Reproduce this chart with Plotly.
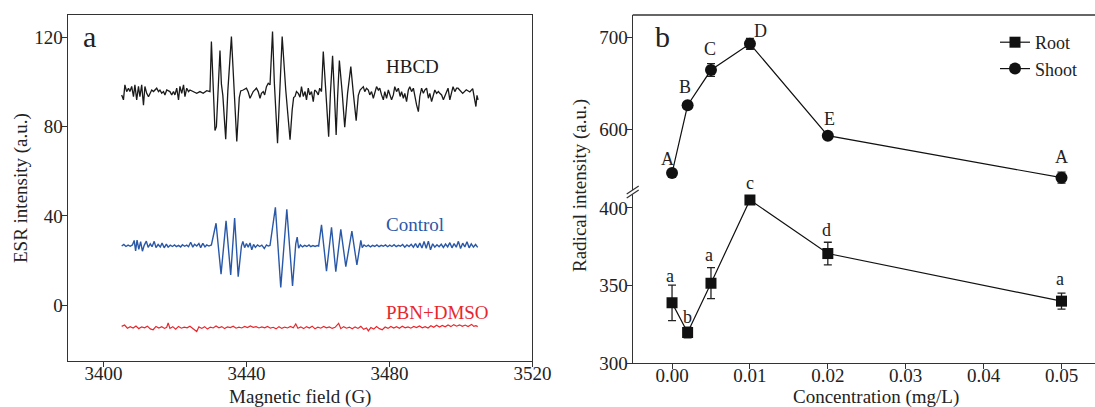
import plotly.graph_objects as go

# ---------------- Panel a: ESR spectra ----------------
hbcd_field = [
    3405.1, 3405.6, 3406.0, 3406.5, 3407.0, 3407.4, 3407.9, 3408.4, 3408.8, 3409.3,
    3409.8, 3410.2, 3410.7, 3411.2, 3411.6, 3412.1, 3412.6, 3413.0, 3413.5, 3414.0,
    3414.9, 3415.4, 3415.8, 3416.3, 3416.8, 3417.2, 3417.7, 3418.6, 3419.1, 3419.6,
    3420.0, 3420.5, 3421.0, 3421.4, 3421.9, 3422.4, 3422.8, 3423.3, 3423.8, 3424.2,
    3425.2, 3426.1, 3427.0, 3427.9, 3428.9, 3429.8,
    3430.2, 3430.7, 3431.2, 3431.6, 3432.0, 3432.6, 3433.0, 3433.4, 3434.2, 3434.8,
    3435.8, 3436.4, 3437.3, 3438.0,
    3438.4, 3439.1, 3440.0, 3440.5, 3441.0, 3441.9, 3442.4, 3442.8, 3443.3, 3443.8,
    3444.2, 3444.7, 3445.1, 3445.6, 3446.1, 3446.6,
    3447.3, 3447.8, 3448.7, 3449.3, 3450.0, 3451.0, 3452.2, 3452.8,
    3453.2, 3453.6, 3454.0, 3454.5, 3455.0, 3455.4, 3455.9, 3456.4, 3456.8, 3457.3,
    3457.7, 3458.2, 3458.7, 3459.1, 3459.6, 3460.1, 3460.5, 3461.0,
    3461.5, 3462.2, 3463.0, 3463.5, 3464.1, 3464.6, 3465.1, 3465.5, 3466.0, 3466.8,
    3467.5, 3468.3, 3469.2, 3469.9, 3470.7, 3471.3, 3471.8,
    3472.7, 3473.1, 3473.6, 3474.1, 3474.5, 3475.0, 3475.5, 3475.9, 3476.4, 3476.9,
    3477.3, 3477.8, 3478.3, 3478.7, 3479.2, 3479.7, 3480.1, 3480.6, 3481.1, 3481.5,
    3482.0, 3482.5, 3483.0, 3483.4, 3483.9, 3484.3, 3484.8, 3485.3, 3485.7, 3486.2,
    3486.7, 3487.1, 3487.6, 3488.1, 3488.5, 3489.0, 3489.5, 3489.9, 3490.4, 3490.9,
    3491.3, 3491.8, 3492.3, 3492.7, 3493.2, 3493.7, 3494.1, 3494.6, 3495.1, 3495.5,
    3496.0, 3496.4, 3496.9, 3497.4, 3497.8, 3498.3, 3498.8, 3499.2, 3499.7, 3500.5,
    3501.5, 3502.5, 3503.3, 3503.8, 3504.2, 3504.5, 3504.8,
]
hbcd_signal = [
    94.2, 92.0, 98.7, 95.7, 97.2, 95.7, 98.0, 93.4, 98.7, 92.0,
    98.0, 93.4, 98.7, 89.6, 98.0, 94.9, 93.4, 94.9, 96.4, 95.7,
    97.2, 95.7, 96.4, 95.0, 95.7, 94.2, 96.4, 95.7, 94.2, 95.7,
    94.2, 97.2, 92.0, 98.0, 94.9, 98.7, 93.4, 97.2, 95.7, 96.4,
    95.7, 94.9, 95.7, 94.9, 96.1, 95.7,
    118.1, 98.0, 78.3, 80.0, 97.0, 114.1, 99.0, 94.0, 74.4, 96.0,
    120.3, 100.0, 73.3, 93.0,
    96.0, 96.4, 97.2, 95.5, 92.7, 95.7, 96.4, 97.2, 95.7, 92.7,
    94.9, 95.7, 94.2, 97.9, 99.4, 98.7,
    122.6, 100.0, 72.6, 95.0, 120.3, 96.4, 74.1, 87.5,
    93.0, 93.5, 95.7, 94.9, 93.2, 97.9, 93.5, 95.7, 92.0, 97.2,
    94.2, 95.7, 91.2, 96.4, 95.7, 94.2, 97.2, 95.7,
    113.6, 96.0, 75.5, 95.0, 111.7, 95.0, 76.3, 93.0, 109.6, 95.0,
    79.7, 95.0, 106.9, 95.0, 82.7, 94.0, 96.4,
    97.9, 95.7, 97.2, 96.4, 94.2, 95.7, 92.7, 95.7, 97.9, 96.4,
    97.2, 94.2, 92.0, 95.7, 92.7, 96.4, 94.2, 92.0, 94.2, 97.9,
    95.7, 97.2, 93.5, 95.7, 92.7, 94.9, 91.2, 96.4, 97.9, 95.7,
    97.2, 93.5, 89.7, 86.7, 93.5, 97.2, 94.9, 96.4, 97.2, 92.7,
    94.9, 91.2, 94.2, 96.4, 94.9, 95.7, 94.9, 94.2, 92.0, 93.5,
    95.7, 97.2, 92.0, 95.7, 97.9, 95.7, 97.2, 97.2, 96.4, 94.9,
    96.5, 95.5, 97.0, 91.5, 89.0, 94.0, 92.0,
]

control_field = [
    3405.1, 3405.7, 3406.3, 3406.9, 3407.5, 3408.1, 3408.6, 3409.0, 3409.4, 3409.9,
    3410.4, 3410.9, 3411.4, 3412.0, 3412.5, 3413.1, 3413.6, 3414.2, 3414.7, 3415.3,
    3415.9, 3416.4, 3417.0, 3417.6, 3418.1, 3418.7, 3419.3, 3419.9, 3420.4, 3421.0,
    3421.6, 3422.1, 3422.7, 3423.3, 3423.8, 3424.4, 3425.0, 3425.5, 3426.1, 3426.7,
    3427.2, 3427.8, 3428.4, 3428.9, 3429.5, 3430.2,
    3431.5, 3432.9, 3434.3, 3435.6, 3436.7, 3437.7,
    3438.6, 3439.0, 3439.5, 3440.0, 3440.5, 3441.0, 3441.5, 3442.0, 3442.5, 3443.1,
    3443.7, 3444.3, 3445.0, 3445.6, 3446.1, 3446.6,
    3448.1, 3449.6, 3451.3, 3452.9,
    3453.8, 3454.2, 3454.6, 3455.1, 3455.7, 3456.3, 3456.9, 3457.5, 3458.0, 3458.6,
    3459.2, 3459.8, 3460.2,
    3461.0, 3462.4, 3463.8, 3465.0, 3466.4, 3467.8, 3469.5, 3470.9,
    3471.7, 3472.0, 3472.4, 3472.9, 3473.5, 3474.1, 3474.7, 3475.3, 3475.9, 3476.5,
    3477.1, 3477.7, 3478.3, 3478.9, 3479.5, 3480.1, 3480.7, 3481.3, 3481.9, 3482.5,
    3483.1, 3483.7, 3484.3, 3484.9, 3485.5, 3486.1, 3486.7, 3487.3, 3487.9, 3488.5,
    3489.1, 3489.7, 3490.3, 3490.9, 3491.5, 3492.1, 3492.7, 3493.3, 3493.9, 3494.5,
    3495.1, 3495.7, 3496.3, 3496.9, 3497.5, 3498.1, 3498.7, 3499.3, 3499.9, 3500.5,
    3501.1, 3501.7, 3502.3, 3502.9, 3503.5, 3504.1, 3504.7,
]
control_signal = [
    26.5, 27.2, 26.3, 26.9, 26.4, 27.0, 29.0, 24.3, 29.2, 25.0,
    28.5, 24.2, 26.8, 28.7, 25.9, 27.5, 26.2, 28.6, 25.8, 27.2,
    26.1, 27.8, 25.7, 27.4, 26.0, 26.9, 26.3, 27.0, 26.2, 26.8,
    26.1, 27.1, 26.4, 26.9, 26.2, 28.2, 26.0, 27.3, 26.5, 27.6,
    25.8, 27.7, 26.1, 27.0, 26.5, 27.0,
    36.7, 13.9, 37.8, 13.6, 39.0, 12.8,
    26.5, 28.5, 25.8, 27.6, 26.0, 27.9, 24.8, 27.2, 25.9, 27.0,
    26.3, 26.9, 25.4, 27.0, 26.5, 26.8,
    43.8, 8.0, 43.0, 8.6,
    27.5, 30.5, 25.5, 27.0, 26.1, 26.8, 26.3, 27.0, 26.2, 26.7,
    26.3, 26.7, 26.5,
    36.0, 15.2, 34.9, 15.0, 34.0, 17.3, 33.2, 18.0,
    27.5, 29.0, 25.8, 27.0, 26.3, 26.9, 26.1, 26.8, 26.3, 27.0,
    26.2, 26.8, 26.4, 27.0, 26.2, 26.9, 26.3, 27.1, 26.2, 26.8,
    26.4, 27.2, 26.0, 27.0, 26.3, 27.3, 26.0, 27.6, 25.8, 27.8,
    25.6, 28.5, 25.5, 28.7, 24.8, 27.5, 26.0, 27.1, 26.2, 27.3,
    25.9, 27.4, 26.1, 28.0, 25.7, 27.6, 26.0, 28.6, 25.4, 27.8,
    26.1, 28.4, 25.7, 27.5, 26.0, 27.2, 25.9,
]

pbn_field = [
    3405.1, 3405.9, 3406.7, 3407.5, 3408.3, 3409.1, 3409.9, 3410.7, 3411.5, 3412.3,
    3413.1, 3413.9, 3414.7, 3415.5, 3416.3, 3417.1, 3417.7, 3418.1, 3418.6, 3419.4,
    3420.2, 3421.0, 3421.8, 3422.6, 3423.4, 3424.2, 3425.0, 3425.6, 3426.1, 3426.7,
    3427.5, 3428.3, 3429.1, 3429.9, 3430.7, 3431.5, 3432.3, 3433.1, 3433.9, 3434.7,
    3435.5, 3436.3, 3437.1, 3437.9, 3438.7, 3439.5, 3440.3, 3441.1, 3441.9, 3442.7,
    3443.5, 3444.3, 3445.1, 3445.9, 3446.7, 3447.5, 3448.3, 3449.1, 3449.9, 3450.7,
    3451.5, 3452.3, 3453.1, 3453.8, 3454.4, 3455.2, 3456.0, 3456.8, 3457.6, 3458.4,
    3459.2, 3460.0, 3460.8, 3461.6, 3462.4, 3463.2, 3464.0, 3464.8, 3465.8, 3466.4,
    3467.2, 3468.0, 3468.8, 3469.6, 3470.4, 3471.2, 3472.0, 3472.8, 3473.6, 3474.1,
    3474.8, 3475.6, 3476.4, 3477.2, 3478.0, 3478.8, 3479.6, 3480.4, 3481.2, 3482.0,
    3482.8, 3483.6, 3484.4, 3485.2, 3486.0, 3486.8, 3487.6, 3488.4, 3489.2, 3490.0,
    3490.8, 3491.6, 3492.4, 3493.2, 3494.0, 3494.8, 3495.6, 3496.4, 3497.2, 3498.0,
    3498.8, 3499.6, 3500.4, 3501.2, 3502.0, 3502.6, 3503.0, 3503.6, 3504.2, 3504.7,
]
pbn_signal = [
    -9.5, -8.9, -10.3, -9.6, -10.2, -9.3, -10.5, -9.7, -10.1, -9.4,
    -10.6, -11.0, -9.5, -10.2, -9.6, -10.4, -9.9, -7.9, -10.4, -9.6,
    -10.7, -9.5, -10.3, -9.8, -10.1, -9.4, -10.4, -11.3, -11.8, -9.7,
    -10.4, -9.6, -10.7, -9.8, -10.2, -9.3, -10.1, -9.6, -10.5, -9.7,
    -10.0, -9.4, -10.3, -9.8, -10.2, -9.5, -10.0, -9.3, -9.9, -9.6,
    -10.2, -9.7, -10.1, -9.5, -10.3, -9.9, -10.6, -9.6, -10.4, -9.8,
    -10.2, -9.5, -10.1, -8.4, -10.3, -9.7, -10.5, -9.6, -10.2, -9.4,
    -10.6, -9.8, -10.3, -9.5, -10.1, -9.7, -10.4, -9.9, -8.1, -10.5,
    -9.6, -10.3, -9.8, -10.6, -9.7, -10.4, -9.5, -10.8, -10.2, -11.5,
    -10.0, -10.7, -9.6, -10.5, -11.0, -9.8, -10.4, -9.5, -10.2, -9.6,
    -10.3, -9.4, -10.1, -9.7, -10.3, -9.5, -10.0, -9.3, -10.1, -9.6,
    -10.2, -9.2, -9.9, -9.0, -9.8, -9.1, -9.7, -8.9, -9.6, -8.7,
    -9.4, -8.8, -9.5, -8.9, -9.6, -9.0, -8.6, -9.5, -9.2, -9.6,
]

esr_x_ticks = [3400, 3440, 3480, 3520]
esr_y_ticks = [0, 40, 80, 120]

# ---------------- Panel b: radical intensity ----------------
concentration = [0.0, 0.002, 0.005, 0.01, 0.02, 0.05]
root_values = [338.8, 319.7, 351.5, 405.2, 370.6, 339.9]
root_err = [11.5, 3.5, 10.0, 1.0, 7.3, 5.2]
root_letters = ["a", "b", "a", "c", "d", "a"]
shoot_values = [551.8, 626.0, 664.6, 693.4, 592.7, 546.7]
shoot_err = [3.0, 2.0, 7.0, 6.0, 2.0, 6.0]
shoot_letters = ["A", "B", "C", "D", "E", "A"]
conc_ticks = [0.0, 0.01, 0.02, 0.03, 0.04, 0.05]
conc_ticktext = ["0.00", "0.01", "0.02", "0.03", "0.04", "0.05"]
lower_ticks = [300, 350, 400]
upper_ticks = [600, 700]

FONT = "Liberation Serif"
AX = "#333333"
TXT = "#222222"
W, H = 1095, 407
TOP, BOT = 15, 363  # plot area pixel bounds


def px(x):
    return x / W


def py(y):
    return (BOT - y) / (BOT - TOP)


fig = go.Figure()

fig.add_trace(go.Scatter(x=hbcd_field, y=hbcd_signal, mode="lines",
                         line=dict(color="#1a1a1a", width=1.3), showlegend=False,
                         xaxis="x", yaxis="y"))
fig.add_trace(go.Scatter(x=control_field, y=control_signal, mode="lines",
                         line=dict(color="#2a58a8", width=1.4), showlegend=False,
                         xaxis="x", yaxis="y"))
fig.add_trace(go.Scatter(x=pbn_field, y=pbn_signal, mode="lines",
                         line=dict(color="#e8262c", width=1.2), showlegend=False,
                         xaxis="x", yaxis="y"))

fig.add_trace(go.Scatter(x=concentration, y=root_values, mode="lines+markers", name="Root",
                         line=dict(color="#111111", width=1.2),
                         marker=dict(symbol="square", size=11, color="#111111"),
                         error_y=dict(type="data", array=root_err, visible=True,
                                      color="#222222", thickness=1.3, width=4),
                         xaxis="x2", yaxis="y2"))
fig.add_trace(go.Scatter(x=concentration, y=shoot_values, mode="lines+markers", name="Shoot",
                         line=dict(color="#111111", width=1.2),
                         marker=dict(symbol="circle", size=12, color="#111111"),
                         error_y=dict(type="data", array=shoot_err, visible=True,
                                      color="#222222", thickness=1.3, width=4),
                         xaxis="x2", yaxis="y3"))

axis_common = dict(showline=True, linecolor=AX, linewidth=1.3, ticks="outside",
                   ticklen=5, tickwidth=1.2, tickcolor=AX, showgrid=False, zeroline=False,
                   automargin=False, tickfont=dict(family=FONT, size=19, color=TXT))
xstyle = dict(axis_common, ticklabelstandoff=-10)
ystyle = dict(axis_common, ticklabelstandoff=-5)

fig.update_layout(
    width=W, height=H, autosize=False,
    margin=dict(l=0, r=0, t=TOP, b=H - BOT, autoexpand=False),
    paper_bgcolor="white", plot_bgcolor="white",
    font=dict(family=FONT, color=TXT),
    xaxis=dict(domain=[px(67.7), px(532.4)], range=[3390, 3520], tickvals=esr_x_ticks,
               anchor="y", mirror=True, **xstyle),
    yaxis=dict(domain=[py(361), 1], range=[-25, 130], tickvals=esr_y_ticks,
               anchor="x", mirror=True, **ystyle),
    xaxis2=dict(domain=[px(632.7), 1], range=[-0.00505, 0.0543], tickvals=conc_ticks,
                ticktext=conc_ticktext, anchor="y2", **xstyle),
    yaxis2=dict(domain=[0, py(190)], range=[300, 411.6], tickvals=lower_ticks,
                anchor="x2", **ystyle),
    yaxis3=dict(domain=[py(190), 1], range=[533.2, 724.9], tickvals=upper_ticks,
                anchor="x2", **ystyle),
    legend=dict(x=px(1083), y=py(24), xanchor="right", yanchor="top",
                font=dict(family=FONT, size=18, color=TXT),
                bgcolor="rgba(0,0,0,0)", borderwidth=0, tracegroupgap=0),
)

C = dict(xanchor="center", yanchor="middle", showarrow=False)
ann = []
# spectrum labels
ann.append(dict(x=px(412), y=py(66), xref="paper", yref="paper", text="HBCD",
                font=dict(family=FONT, size=19, color="#1a1a1a"), **C))
ann.append(dict(x=px(415), y=py(224), xref="paper", yref="paper", text="Control",
                font=dict(family=FONT, size=19, color="#2a58a8"), **C))
ann.append(dict(x=px(437), y=py(312), xref="paper", yref="paper", text="PBN+DMSO",
                font=dict(family=FONT, size=19, color="#e8262c"), **C))
# panel letters
ann.append(dict(x=px(89), y=py(37), xref="paper", yref="paper", text="a",
                font=dict(family=FONT, size=30, color=TXT), **C))
ann.append(dict(x=px(662.5), y=py(37), xref="paper", yref="paper", text="b",
                font=dict(family=FONT, size=30, color=TXT), **C))
# axis titles
ann.append(dict(x=px(300), y=py(397), xref="paper", yref="paper", text="Magnetic field (G)",
                font=dict(family=FONT, size=19, color=TXT), **C))
ann.append(dict(x=px(876), y=py(397), xref="paper", yref="paper", text="Concentration (mg/L)",
                font=dict(family=FONT, size=19, color=TXT), **C))
ann.append(dict(x=px(21), y=py(188), xref="paper", yref="paper", text="ESR intensity (a.u.)",
                textangle=-90, font=dict(family=FONT, size=19, color=TXT), **C))
ann.append(dict(x=px(580), y=py(186), xref="paper", yref="paper", text="Radical intensity (a.u.)",
                textangle=-90, font=dict(family=FONT, size=19, color=TXT), **C))

shoot_shift = [(-5, 14), (-3, 18), (-1, 21), (11, 13), (2, 17), (0, 21)]
root_shift = [(-2, 27), (0, 15), (-2, 28), (0, 17), (-1, 24), (-2, 22)]
for xv, yv, t, (dx, dy) in zip(concentration, shoot_values, shoot_letters, shoot_shift):
    ann.append(dict(x=xv, y=yv, xref="x2", yref="y3", text=t,
                    xshift=dx, yshift=dy, font=dict(family=FONT, size=18, color=TXT), **C))
for xv, yv, t, (dx, dy) in zip(concentration, root_values, root_letters, root_shift):
    ann.append(dict(x=xv, y=yv, xref="x2", yref="y2", text=t,
                    xshift=dx, yshift=dy, font=dict(family=FONT, size=18, color=TXT), **C))
fig.update_layout(annotations=ann)

shapes = []
# top border of panel b
shapes.append(dict(type="line", xref="paper", yref="paper", x0=px(632.7), x1=1.0, y0=1, y1=1,
                   line=dict(color=AX, width=1.3)))
# axis break mark on the left axis of panel b
cx = 632.7
path = (f"M {px(cx-6)},{py(194)} L {px(cx+6)},{py(186)} L {px(cx+6)},{py(190)} "
        f"L {px(cx-6)},{py(198)} Z")
shapes.append(dict(type="path", xref="paper", yref="paper", path=path,
                   fillcolor="white", line=dict(width=0)))
shapes.append(dict(type="line", xref="paper", yref="paper", x0=px(cx-6), y0=py(194),
                   x1=px(cx+6), y1=py(186), line=dict(color=AX, width=1.2)))
shapes.append(dict(type="line", xref="paper", yref="paper", x0=px(cx-6), y0=py(198),
                   x1=px(cx+6), y1=py(190), line=dict(color=AX, width=1.2)))
fig.update_layout(shapes=shapes)

fig.write_html("out.html", config={"displayModeBar": False},
               post_script="document.body.style.margin='0px';document.body.style.padding='0px';")
